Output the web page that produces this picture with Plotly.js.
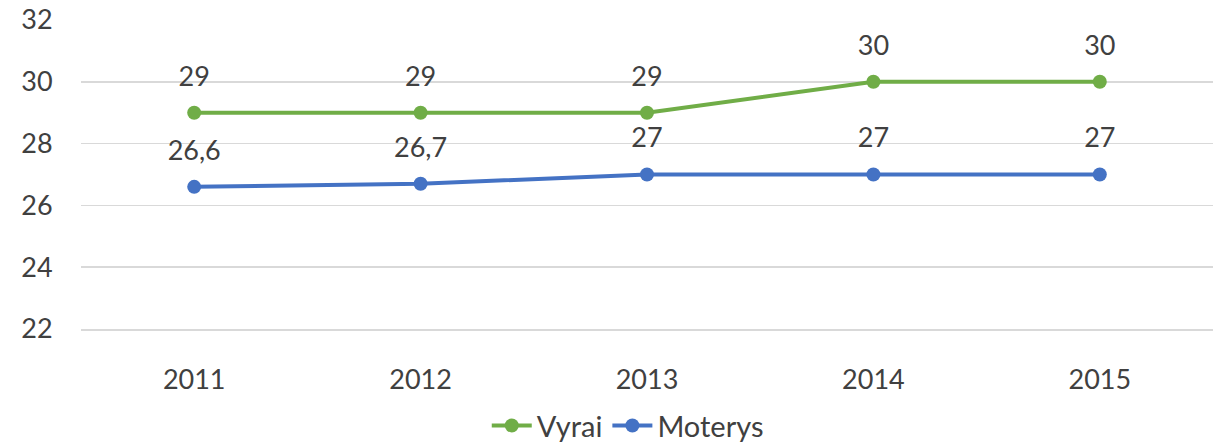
<!DOCTYPE html>
<html><head><meta charset="utf-8">
<script src="https://cdn.plot.ly/plotly-3.0.1.min.js"></script>
<style>html,body{margin:0;padding:0;background:#fff}</style>
</head><body>
<div id="chart" style="width:1220px;height:448px"></div>
<script>
const years = ['2011','2012','2013','2014','2015'];
const vyrai = [29, 29, 29, 30, 30];
const moterys = [26.6, 26.7, 27, 27, 27];
const fmt = v => String(v).replace('.', ',');
const font = 'Lato, "Open Sans", sans-serif';
const tc = '#404040';
const fs = 27;
function tr(name, vals, color){
  return {x: years, y: vals, name: name, type:'scatter', mode:'lines+markers',
    line:{color:color,width:4}, marker:{color:color,size:14},
    cliponaxis:false};
}
function lab(vals){
  return {x: years, y: vals, type:'scatter', mode:'markers+text', showlegend:false, hoverinfo:'skip',
    marker:{size:31, color:'rgba(0,0,0,0)'}, text: vals.map(fmt), textposition:'top center',
    textfont:{family:font,size:fs,color:tc}, cliponaxis:false};
}
const data = [tr('Vyrai', vyrai, '#70AD47'), tr('Moterys', moterys, '#4472C4'), lab(vyrai), lab(moterys)];
const layout = {
  width:1220, height:448,
  margin:{l:81, r:7, t:19.5, b:119},
  paper_bgcolor:'#fff', plot_bgcolor:'#fff',
  font:{family:font,size:fs,color:tc},
  xaxis:{type:'category', range:[-0.5,4.5], showgrid:false, zeroline:false,
    showline:true, linecolor:'#d9d9d9', linewidth:1.5,
    ticks:'outside', ticklen:26, tickcolor:'rgba(0,0,0,0)',
    tickfont:{family:font,size:fs,color:tc}},
  yaxis:{range:[22,32], dtick:2, tick0:22, showgrid:true, gridcolor:'#d9d9d9', gridwidth:1.5,
    zeroline:false, showline:false, ticks:'outside', ticklen:22, tickcolor:'rgba(0,0,0,0)',
    tickfont:{family:font,size:fs,color:tc}},
  showlegend:true,
  legend:{orientation:'h', x:0.483, xanchor:'center', yref:'container', y:0.05, yanchor:'middle',
    font:{family:font,size:29,color:tc}, itemwidth:40, tracegroupgap:0}
};
Plotly.newPlot('chart', data, layout, {displayModeBar:false, staticPlot:true});
</script>
</body></html>
